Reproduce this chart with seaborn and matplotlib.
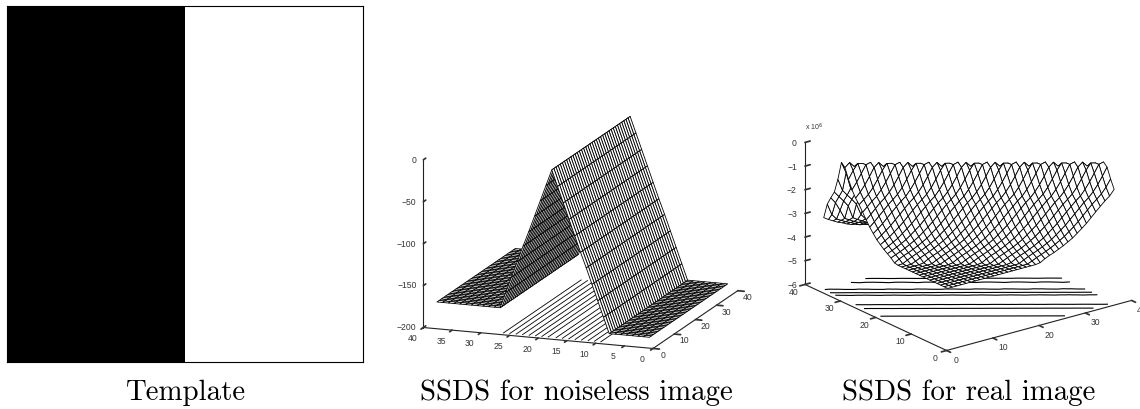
import matplotlib
matplotlib.use('Agg')
import matplotlib.pyplot as plt
import numpy as np
import seaborn as sns

# Template: black left half, white right half
template_row = [0, 1]

# Noiseless SSDS: height of the ridge for x = 1..38 (same along every y)
ridge_y = list(range(1, 39))
ridge_x = list(range(1, 39))
ridge_z = [-189, -189, -189, -189, -189, -189, -189, -189, -170, -151,
           -132, -113, -95, -76, -57, -38, -19, 0, -19, -38,
           -57, -76, -94, -113, -132, -151, -170, -170, -170, -170,
           -170, -170, -170, -170, -170, -170, -170, -170]
ridge_levels = [-160, -139, -118, -97, -76, -55, -34, -13]
mid_x_ticks = [0, 5, 10, 15, 20, 25, 30, 35, 40]
mid_y_ticks = [0, 10, 20, 30, 40]
mid_z_ticks = [-200, -150, -100, -50, 0]

# Real SSDS (x 1e6): height along the diagonals 3x + 4y of the grid, from 3x + 4y = 56 upwards
real_x = list(range(1, 38))
real_y = list(range(1, 37))
diag_start = 56
diag_z = [-3.50, -3.50, -3.50, -3.50, -3.50, -3.50, -3.50, -3.50,
          -3.50, -3.50, -3.49, -3.47, -3.42, -3.39, -3.36, -3.33,
          -3.30, -3.27, -3.25, -3.22, -3.20, -3.17, -3.14, -3.11,
          -3.08, -3.05, -3.02, -2.98, -2.95, -2.91, -2.87, -2.84,
          -2.80, -2.75, -2.70, -2.65, -2.60, -2.55, -2.50, -2.45,
          -2.40, -2.34, -2.28, -2.21, -2.15, -2.09, -2.03, -1.96,
          -1.90, -1.84, -1.78, -1.71, -1.65, -1.60, -1.55, -1.50,
          -1.45, -1.38, -1.30, -1.22, -1.15, -1.05, -0.95, -0.85,
          -0.75, -0.64, -0.53, -0.42, -0.32, -0.28, -0.26, -0.27,
          -0.33, -0.48, -0.75, -1.05, -1.30, -1.47, -1.57, -1.66,
          -1.75, -1.82, -1.90, -1.97, -2.05, -2.14, -2.23, -2.31,
          -2.40, -2.60, -2.80, -2.95, -3.00, -3.04, -3.08, -3.11,
          -3.15, -3.19, -3.23, -3.26, -3.30, -3.33, -3.35, -3.38,
          -3.40, -3.44, -3.48, -3.51, -3.55, -3.56, -3.57, -3.59,
          -3.60, -3.61, -3.62, -3.64, -3.65, -3.67, -3.70, -3.72,
          -3.74, -3.76, -3.78, -3.80]
real_levels = [-3.7, -3.55, -2.98, -2.05, -1.5]
real_xy_ticks = [0, 10, 20, 30, 40]
real_z_ticks = [-6, -5, -4, -3, -2, -1, 0]

titles = ['Template', 'SSDS for noiseless image', 'SSDS for real image']

W, H = 1140, 410
TICK_COLOR = '#333333'
TICK_SIZE = 6.2


def px_axes(fig, left, top, width, height, **kw):
    return fig.add_axes([left / W, 1 - (top + height) / H, width / W, height / H], **kw)


def style_3d(ax):
    ax.set_proj_type('ortho')
    ax.patch.set_alpha(0)
    ax.grid(False)
    for axis in (ax.xaxis, ax.yaxis, ax.zaxis):
        axis.set_pane_color((1, 1, 1, 0))
        axis.pane.set_edgecolor((1, 1, 1, 0))
        axis.line.set_linewidth(0.8)
        axis.line.set_color('#222222')
    ax.tick_params(colors=TICK_COLOR, width=0.6)
    # matlab style: floor ticks point inwards, height ticks point out
    ax.xaxis._axinfo['tick'].update({'inward_factor': 0.35, 'outward_factor': 0})
    ax.yaxis._axinfo['tick'].update({'inward_factor': 0.35, 'outward_factor': 0})
    ax.zaxis._axinfo['tick'].update({'inward_factor': 0, 'outward_factor': 0.35})


def hide_tick_labels(ax):
    # tick labels are placed by hand with tick_text, the 3d ones land too low
    for axis in (ax.xaxis, ax.yaxis, ax.zaxis):
        axis.set_major_formatter(matplotlib.ticker.NullFormatter())
        for tick in axis.get_major_ticks():
            tick.label1.set_visible(False)
            tick.label2.set_visible(False)


def tick_text(ax, x, y, z, value, ha='center'):
    ax.text(x, y, z, str(value).replace('-', '\u2212'), fontsize=TICK_SIZE, color=TICK_COLOR,
            ha=ha, va='center')


sns.set_theme(style='white')
plt.rcParams['font.family'] = ['Liberation Sans', 'DejaVu Sans']
fig = plt.figure(figsize=(W / 100, H / 100), dpi=100, facecolor='white')

# left panel
ax1 = px_axes(fig, 7, 7, 356, 356)
sns.heatmap(np.array([template_row]), cmap='gray', cbar=False, vmin=0, vmax=1,
            xticklabels=False, yticklabels=False, ax=ax1)
for s in ax1.spines.values():
    s.set_visible(True)
    s.set_color('black')
    s.set_linewidth(0.8)

# middle panel
ax2 = px_axes(fig, 387.1, 43, 376.7, 376.7, projection='3d')
style_3d(ax2)
ax2.view_init(elev=14.45, azim=-69.9)
ax2.set_box_aspect((245, 247, 173.5))
X2, Y2 = np.meshgrid(ridge_x, ridge_y)
Z2 = np.tile(ridge_z, (len(ridge_y), 1)).astype(float)
ax2.plot_surface(X2, Y2, Z2, rstride=1, cstride=1, color='white', edgecolor='black',
                 linewidth=0.6, shade=False)
ax2.contour(X2, Y2, Z2, zdir='z', offset=-200, colors='black', linewidths=0.6,
            linestyles='solid', levels=ridge_levels)
ax2.set_xlim(40, 0, view_margin=0)
ax2.set_ylim(0, 40, view_margin=0)
ax2.set_zlim(-200, 0, view_margin=0)
ax2.set_xticks(mid_x_ticks)
ax2.set_yticks(mid_y_ticks)
ax2.set_zticks(mid_z_ticks)
ax2.zaxis.set_ticks_position('lower')
hide_tick_labels(ax2)
for v in mid_x_ticks:
    tick_text(ax2, v, -5.2, -203, v)
for v in mid_y_ticks:
    tick_text(ax2, -1.74, v, -206, v)
for v in mid_z_ticks:
    tick_text(ax2, 41.2, 0, v, v, ha='right')

# right panel
ax3 = px_axes(fig, 787.3, 51, 352.4, 352.4, projection='3d')
style_3d(ax3)
ax3.view_init(elev=20.8, azim=-127.3)
ax3.set_box_aspect((232.7, 233.8, 152))
X3, Y3 = np.meshgrid(real_x, real_y)
diag_idx = np.clip(3 * X3 + 4 * Y3 - diag_start, 0, len(diag_z) - 1)
Z3 = np.array(diag_z)[diag_idx]
ax3.plot_surface(X3, Y3, Z3, rstride=1, cstride=1, color='white', edgecolor='black',
                 linewidth=0.6, shade=False)
ax3.contour(X3, Y3, Z3, zdir='z', offset=-6, colors='black', linewidths=0.8,
            linestyles='solid', levels=real_levels)
ax3.set_xlim(0, 40, view_margin=0)
ax3.set_ylim(0, 40, view_margin=0)
ax3.set_zlim(-6, 0, view_margin=0)
ax3.set_xticks(real_xy_ticks)
ax3.set_yticks(real_xy_ticks)
ax3.set_zticks(real_z_ticks)
ax3.zaxis.set_ticks_position('upper')
hide_tick_labels(ax3)
for v in real_xy_ticks:
    tick_text(ax3, v, -2.8, -6.17, v)
    tick_text(ax3, -2.4, v, -6.17, v)
for v in real_z_ticks:
    tick_text(ax3, -1.1, 40.83, v, v, ha='right')

fig.text(805 / W, 1 - 127 / H, r'x 10$^{6}$', fontsize=5, color=TICK_COLOR, va='center')

for xc, t in zip([186, 576, 968.5], titles):
    fig.text(xc / W, 1 - 393 / H, t, family='cmr10', fontsize=20.8, ha='center', va='center',
             color='black')

fig.savefig('out.png', dpi=100)
